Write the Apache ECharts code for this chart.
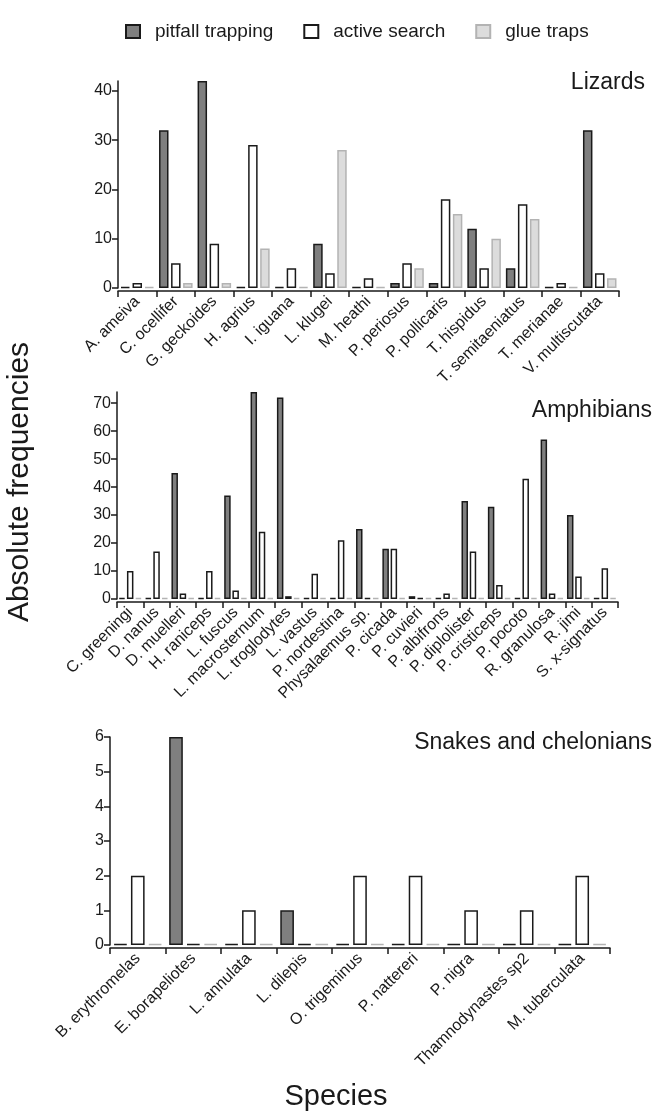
<!DOCTYPE html>
<html lang="en">
<head>
    <meta charset="UTF-8">
    <title>Absolute frequencies by species</title>
    <script src="https://cdn.jsdelivr.net/npm/echarts@6/dist/echarts.min.js"></script>
    <style>
        body { margin: 0; background: #fff; }
    </style>
</head>
<body>
    <div id="main" style="width: 669px; height: 1113px;"></div>
    <script>
        // lizards
        var lizardSpecies = ['A. ameiva', 'C. ocellifer', 'G. geckoides', 'H. agrius', 'I. iguana', 'L. klugei',
            'M. heathi', 'P. periosus', 'P. pollicaris', 'T. hispidus', 'T. semitaeniatus', 'T. merianae', 'V. multiscutata'];
        var lizardPitfall = [0, 32, 42, 0, 0, 9, 0, 1, 1, 12, 4, 0, 32];
        var lizardActive = [1, 5, 9, 29, 4, 3, 2, 5, 18, 4, 17, 1, 3];
        var lizardGlue = [0, 1, 1, 8, 0, 28, 0, 4, 15, 10, 14, 0, 2];

        // amphibians
        var amphibianSpecies = ['C. greeningi', 'D. nanus', 'D. muelleri', 'H. raniceps', 'L. fuscus', 'L. macrosternum',
            'L. troglodytes', 'L. vastus', 'P. nordestina', 'Physalaemus sp.', 'P. cicada', 'P. cuvieri', 'P. albifrons',
            'P. diplolister', 'P. cristiceps', 'P. pocoto', 'R. granulosa', 'R. jimi', 'S. x-signatus'];
        var amphibianPitfall = [0, 0, 45, 0, 37, 74, 72, 0, 0, 25, 18, 1, 0, 35, 33, 0, 57, 30, 0];
        var amphibianActive = [10, 17, 2, 10, 3, 24, 1, 9, 21, 0, 18, 0, 2, 17, 5, 43, 2, 8, 11];
        var amphibianGlue = [0, 0, 0, 0, 0, 0, 0, 0, 0, 0, 0, 0, 0, 0, 0, 0, 0, 0, 0];

        // snakes and chelonians
        var snakeSpecies = ['B. erythromelas', 'E. borapeliotes', 'L. annulata', 'L. dilepis', 'O. trigeminus',
            'P. nattereri', 'P. nigra', 'Thamnodynastes sp2', 'M. tuberculata'];
        var snakePitfall = [0, 6, 0, 1, 0, 0, 0, 0, 0];
        var snakeActive = [2, 0, 1, 0, 2, 2, 1, 1, 2];
        var snakeGlue = [0, 0, 0, 0, 0, 0, 0, 0, 0];

        var lizardTicks = [0, 10, 20, 30, 40];
        var amphibianTicks = [0, 10, 20, 30, 40, 50, 60, 70];
        var snakeTicks = [0, 1, 2, 3, 4, 5, 6];

        var seriesNames = ['pitfall trapping', 'active search', 'glue traps'];

        var FONT = 'Liberation Sans, Arial, sans-serif';
        var INK = '#1a1a1a';

        var barStyles = [
            { color: '#7f7f7f', borderColor: INK, borderWidth: 1.5 },
            { color: '#ffffff', borderColor: INK, borderWidth: 1.5 },
            { color: '#dcdcdc', borderColor: '#b3b3b3', borderWidth: 1.5 }
        ];

        var chartDom = document.getElementById('main');
        var myChart = echarts.init(chartDom, null, { renderer: 'canvas' });

        function makeX(idx, cats) {
            return {
                type: 'category',
                gridIndex: idx,
                data: cats,
                boundaryGap: true,
                offset: 3, // axis sits a little below the zero line
                axisLine: { onZero: false, lineStyle: { color: INK, width: 1.5 } },
                axisTick: { show: true, length: 6, lineStyle: { color: INK, width: 1.5 } },
                axisLabel: {
                    interval: 0, rotate: 45, margin: 8,
                    color: INK, fontFamily: FONT, fontSize: 16
                },
                splitLine: { show: false }
            };
        }

        function makeY(idx, max, ticks) {
            return {
                type: 'value',
                gridIndex: idx,
                min: 0,
                max: max,
                axisLine: { show: true, lineStyle: { color: INK, width: 1.5 } },
                axisTick: { show: true, length: 6, customValues: ticks, lineStyle: { color: INK, width: 1.5 } },
                axisLabel: { customValues: ticks, color: INK, fontFamily: FONT, fontSize: 16, margin: 6 },
                splitLine: { show: false }
            };
        }

        function makeSeries(idx, groups) {
            return groups.map(function (vals, i) {
                return {
                    name: seriesNames[i],
                    type: 'bar',
                    xAxisIndex: idx,
                    yAxisIndex: idx,
                    data: vals,
                    barCategoryGap: '13%',
                    barGap: '27%',
                    barMinHeight: 1, // zero counts still show as a flat line
                    itemStyle: barStyles[i],
                    emphasis: { disabled: true }
                };
            });
        }

        var option = {
            animation: false,
            backgroundColor: '#fff',
            textStyle: { fontFamily: FONT, color: INK },
            legend: {
                data: seriesNames,
                top: 17,
                left: 120,
                icon: 'rect',
                itemWidth: 14,
                itemHeight: 13,
                itemGap: 30,
                textStyle: { fontFamily: FONT, fontSize: 19, color: INK, padding: [0, 0, 0, 10] }
            },
            title: [
                { text: 'Lizards', right: 19, top: 66, textStyle: { fontFamily: FONT, fontSize: 23, fontWeight: 'normal', color: INK } },
                { text: 'Amphibians', right: 12, top: 394, textStyle: { fontFamily: FONT, fontSize: 23, fontWeight: 'normal', color: INK } },
                { text: 'Snakes and chelonians', right: 12, top: 726, textStyle: { fontFamily: FONT, fontSize: 23, fontWeight: 'normal', color: INK } }
            ],
            grid: [
                { left: 118, top: 81, width: 501, height: 207, outerBoundsMode: 'none' },
                { left: 117, top: 392, width: 501, height: 207, outerBoundsMode: 'none' },
                { left: 110, top: 737, width: 500, height: 208, outerBoundsMode: 'none' }
            ],
            xAxis: [
                makeX(0, lizardSpecies),
                makeX(1, amphibianSpecies),
                makeX(2, snakeSpecies)
            ],
            yAxis: [
                makeY(0, 42, lizardTicks),
                makeY(1, 74, amphibianTicks),
                makeY(2, 6, snakeTicks)
            ],
            series: [].concat(
                makeSeries(0, [lizardPitfall, lizardActive, lizardGlue]),
                makeSeries(1, [amphibianPitfall, amphibianActive, amphibianGlue]),
                makeSeries(2, [snakePitfall, snakeActive, snakeGlue])
            ),
            graphic: [
                {
                    type: 'text',
                    x: 20, y: 482,
                    rotation: Math.PI / 2,
                    style: {
                        text: 'Absolute frequencies',
                        font: '30px ' + FONT,
                        fill: INK,
                        textAlign: 'center',
                        textVerticalAlign: 'middle'
                    }
                },
                {
                    type: 'text',
                    x: 336, y: 1097,
                    style: {
                        text: 'Species',
                        font: '29px ' + FONT,
                        fill: INK,
                        textAlign: 'center',
                        textVerticalAlign: 'middle'
                    }
                }
            ]
        };

        option && myChart.setOption(option);
    </script>
</body>
</html>
